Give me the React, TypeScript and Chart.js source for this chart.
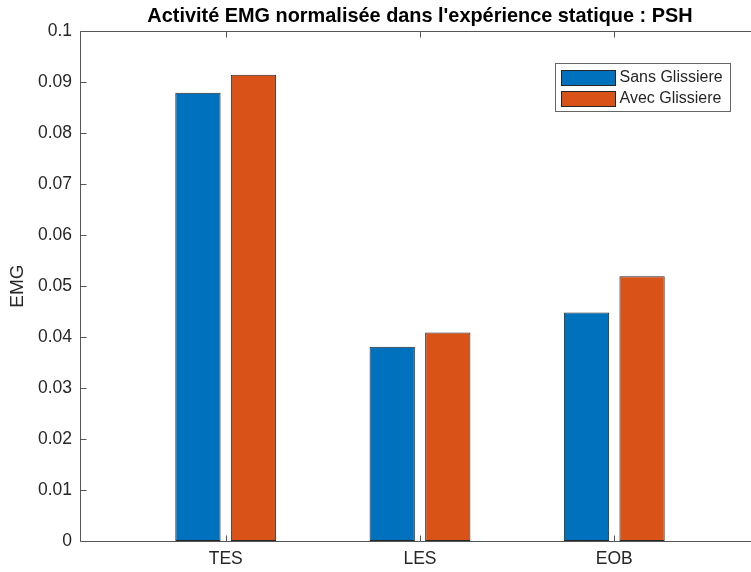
import React, { useEffect, useRef } from 'react';
import { Chart, registerables } from 'chart.js';

Chart.register(...registerables);

// ---- data ----
const categories = ['TES', 'LES', 'EOB'];
const categoryPositions = [1, 2, 3];
const sansGlissiere = [0.0879, 0.0381, 0.0448];
const avecGlissiere = [0.0914, 0.0409, 0.0519];
const seriesLabels = ['Sans Glissiere', 'Avec Glissiere'];
const yTickValues = [0, 0.01, 0.02, 0.03, 0.04, 0.05, 0.06, 0.07, 0.08, 0.09, 0.1];
const yTickLabels = ['0', '0.01', '0.02', '0.03', '0.04', '0.05', '0.06', '0.07', '0.08', '0.09', '0.1'];
const titleText = "Activité EMG normalisée dans l'expérience statique : PSH";
const yAxisLabel = 'EMG';

// ---- style ----
const FONT = '"Liberation Sans", Arial, Helvetica, sans-serif';
const TEXT_COLOR = '#262626';
const AXIS_COLOR = '#555555';
const BLUE = '#0072BD';
const ORANGE = '#D95319';
const EDGE = '#262626';
const TICK_LEN = 6;

const matlabAxesPlugin = {
  id: 'matlabAxes',
  afterDatasetsDraw(chart: any) {
    const { ctx, chartArea: a, scales } = chart;
    const x = scales.x;
    const y = scales.y;
    ctx.save();
    ctx.strokeStyle = AXIS_COLOR;
    ctx.lineWidth = 1;
    ctx.beginPath();
    const L = Math.round(a.left) + 0.5;
    const R = Math.round(a.right) + 0.5;
    const T = Math.round(a.top) + 0.5;
    const B = Math.round(a.bottom) + 0.5;
    ctx.moveTo(R, T);
    ctx.lineTo(L, T);
    ctx.lineTo(L, B);
    ctx.lineTo(R, B);
    y.ticks.forEach((t: any) => {
      const py = Math.round(y.getPixelForValue(t.value)) + 0.5;
      ctx.moveTo(L, py);
      ctx.lineTo(L + TICK_LEN, py);
    });
    x.ticks.forEach((t: any) => {
      const px = Math.round(x.getPixelForValue(t.value)) + 0.5;
      ctx.moveTo(px, B);
      ctx.lineTo(px, B - TICK_LEN);
      ctx.moveTo(px, T);
      ctx.lineTo(px, T + TICK_LEN);
    });
    ctx.stroke();
    ctx.restore();
  },
  afterDraw(chart: any) {
    const { ctx, chartArea: a } = chart;
    const ds = chart.data.datasets;
    const boxW = 175;
    const rowH = 20.5;
    const boxH = 48;
    const left = Math.round(a.right - 30 - boxW) + 0.5;
    const top = Math.round(a.top + 32) + 0.5;
    ctx.save();
    ctx.fillStyle = '#ffffff';
    ctx.fillRect(left, top, boxW, boxH);
    ctx.strokeStyle = '#666666';
    ctx.lineWidth = 1;
    ctx.strokeRect(left, top, boxW, boxH);
    ctx.font = `16px ${FONT}`;
    ctx.textBaseline = 'middle';
    ctx.textAlign = 'left';
    ds.forEach((d: any, i: number) => {
      const cy = top + 14 + i * rowH;
      const sx = left + 6;
      const sy = Math.round(cy - 7.5) + 0.5;
      ctx.fillStyle = d.backgroundColor;
      ctx.fillRect(sx, sy, 54, 15);
      ctx.strokeStyle = EDGE;
      ctx.strokeRect(sx, sy, 54, 15);
      ctx.fillStyle = TEXT_COLOR;
      ctx.fillText(d.label, left + 64, cy + 0.5);
    });
    ctx.restore();
  },
};

export default function App() {
  const canvasRef = useRef<HTMLCanvasElement | null>(null);

  useEffect(() => {
    document.documentElement.style.overflow = 'hidden';
    document.body.style.margin = '0';
    document.body.style.overflow = 'hidden';
    if (!canvasRef.current) return;
    const chart = new Chart(canvasRef.current, {
      type: 'bar',
      data: {
        datasets: [
          {
            label: seriesLabels[0],
            data: categoryPositions.map((p, i) => ({ x: p, y: sansGlissiere[i] })),
            backgroundColor: BLUE,
            borderColor: EDGE,
            borderWidth: 1,
            borderSkipped: false,
          },
          {
            label: seriesLabels[1],
            data: categoryPositions.map((p, i) => ({ x: p, y: avecGlissiere[i] })),
            backgroundColor: ORANGE,
            borderColor: EDGE,
            borderWidth: 1,
            borderSkipped: false,
          },
        ],
      },
      options: {
        animation: false,
        responsive: false,
        devicePixelRatio: 1,
        categoryPercentage: 0.572,
        barPercentage: 0.815,
        layout: { padding: { left: 0, right: 10, top: 0, bottom: 0 } },
        plugins: {
          legend: { display: false },
          tooltip: { enabled: false },
          title: {
            display: true,
            text: titleText,
            fullSize: false,
            color: '#000000',
            font: { family: FONT, size: 19.9, weight: 'bold', lineHeight: 1.2 },
            padding: { top: 5, bottom: 2.1 },
          },
        },
        scales: {
          x: {
            type: 'linear',
            offset: false,
            min: 0.25,
            max: 3.75,
            grid: { display: false, drawTicks: false, offset: false },
            border: { display: false },
            afterBuildTicks: (scale: any) => {
              scale.ticks = categoryPositions.map((v) => ({ value: v }));
            },
            afterFit: (scale: any) => {
              scale.height = 31;
            },
            ticks: {
              autoSkip: false,
              maxRotation: 0,
              padding: 8,
              color: TEXT_COLOR,
              font: { family: FONT, size: 17.5 },
              callback: (_v: any, i: number) => categories[i],
            },
          },
          y: {
            type: 'linear',
            min: 0,
            max: 0.1,
            grid: { display: false, drawTicks: false },
            border: { display: false },
            afterBuildTicks: (scale: any) => {
              scale.ticks = yTickValues.map((v) => ({ value: v }));
            },
            afterFit: (scale: any) => {
              scale.width = 80;
            },
            ticks: {
              autoSkip: false,
              padding: 8,
              color: TEXT_COLOR,
              font: { family: FONT, size: 17.5 },
              callback: (_v: any, i: number) => yTickLabels[i],
            },
            title: {
              display: true,
              text: yAxisLabel,
              color: TEXT_COLOR,
              font: { family: FONT, size: 19, lineHeight: 1.2 },
              padding: { top: 6, bottom: 0 },
            },
          },
        },
      },
      plugins: [matlabAxesPlugin],
    });
    return () => chart.destroy();
  }, []);

  return (
    <div style={{ width: 770, height: 572, background: '#ffffff' }}>
      <canvas ref={canvasRef} width={770} height={572} style={{ display: 'block' }} />
    </div>
  );
}
